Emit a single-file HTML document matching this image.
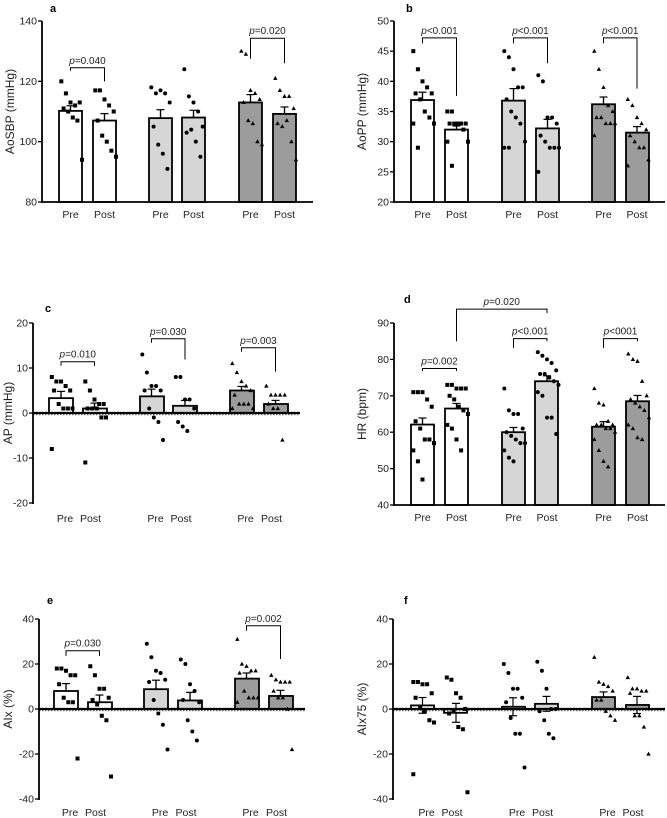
<!DOCTYPE html>
<html><head><meta charset="utf-8"><style>
html,body{margin:0;padding:0;background:#fff;}
svg{display:block;font-family:"Liberation Sans",sans-serif;}
</style></head><body>
<svg id="fig" width="667" height="818" viewBox="0 0 667 818"></svg>
<script>
// ---- data ----
const groups = ["Pre","Post","Pre","Post","Pre","Post"];
const aMean=[110.2,107,107.8,108,113,109.2];
const aSem=[1.7,2.3,2.8,2.4,2.6,2.3];
const aPts=[[120,116,113,112,113,111,110,108,107,94],[117,117,114,112,110,107,102,100,97,95],[118,116,117,116,113,105,99,96,91],[124,115,113,110,105,103,104,100,95],[130,129,117,116,114,113,107,106,100,99],[121,117,115,115,111,106,105,107,100,94]];
const aBr=[[0,1,124.5,123.5,120,"=0.040"],[4,5,134.3,127.5,126,"=0.020"]];
const aTicks=[80,100,120,140];

const bMean=[36.9,32,36.8,32.2,36.2,31.5];
const bSem=[1.3,0.6,2,1.5,1.2,1];
const bPts=[[45,42,40,39,38,38,37,35,34,33,33,29],[35,35,33,33,33,33,33,33,32,30,30,26],[45,44,42,39,39,37,35,34,33,30,29,29],[41,40,34,34,33,31,30,29,29,29,25],[45,42,39,36,35,34,34,33,33,33,31],[37,36,34,33,32,31,30,29,29,27,26]];
const bBr=[[0,1,47.2,46.3,37.6,"<0.001"],[2,3,47.2,46.3,43,"<0.001"],[4,5,47.2,46.3,38.8,"<0.001"]];
const bTicks=[20,25,30,35,40,45,50];

const cMean=[3.3,1,3.7,1.6,5,2];
const cSem=[1.5,1.2,1.6,1.2,0.9,0.8];
const cPts=[[8,7,7,6,5,5,2,1,1,1,-8],[7,5,3,2,2,1,1,1,-1,-1,-11],[13,9,6,6,5,5,1,-1,-2,-6],[8,8,3,3,1,-2,-3,-4],[11,9,7,6,5,4,2,2,2,1,1],[6,4,4,4,4,2,1,1,-6]];
const cBr=[[0,1,11.4,10.5,10.5,"=0.010"],[2,3,16.5,15.6,11.9,"=0.030"],[4,5,14.5,13.6,9.2,"=0.003"]];
const cTicks=[-20,-10,0,10,20];

const dMean=[62.1,66.5,60,74,61.5,68.5];
const dSem=[1.8,1.4,1.3,1.5,1.4,1.6];
const dPts=[[71,71,71,69,67,63,61,58,58,57,55,52,47],[73,73,72,72,72,70,69,67,66,65,62,61,58,55],[72,66,65,65,61,60,59,58,57,57,55,53,52],[82,81,80,79,77,76,76,75,74,73,71,70,64,64,59.5],[72,68,67.5,63,62,62,62,61,61,60,58,55,52,50.5],[81.5,80,79.5,74,70,69,68,67,66,64,62,61,58.5,58]];
const dBr=[[0,1,77.5,76.8,76.8,"=0.002"],[2,3,85.7,83.1,85,"<0.001"],[4,5,85.7,83.1,85,"<0001"],[1,3,93.8,85,92.7,"=0.020"]];
const dTicks=[40,50,60,70,80,90];

const eMean=[8,3,8.8,3.8,13.5,5.8];
const eSem=[3.3,3.2,4,3.6,2.5,2.5];
const ePts=[[18,18,17,15,15,11,5,3,3,-22],[19,15,9,9,5,4,2,-3,-5,-30],[29,23,17,16,13,12,4,-2,-7,-18],[22,20,11,8,3,4,-5,-10,-14],[31,20,19,17,17,16,8,5,5,5,3],[15,13,12,12,12,8,5,5,0,-18]];
const eBr=[[0,1,25.9,23.6,23.6,"=0.030"],[4,5,37,34.8,22.2,"=0.002"]];
const eTicks=[-40,-20,0,20,40];

const fMean=[1.6,-1.7,1,2.3,5.3,1.8];
const fSem=[3.5,4.2,4,3.3,2.3,3.8];
const fPts=[[12,12,11,11,7,5,1,-1,-5,-6,-29],[14,13,7,5,0,-2,-1,-8,-9,-37],[20,16,9,9,5,3,-4,-11,-11,-26],[21,17,9,0,0,-1,-5,-11,-13],[23,12,11,10,8,4,4,-1,-3,-5],[14,9,9,8,8,7,-3,-3,-8,-20]];
const fBr=[];
const fTicks=[-40,-20,0,20,40];

const fills=["#ffffff","#ffffff","#d6d6d6","#d6d6d6","#9c9c9c","#9c9c9c"];
const markers=["sq","sq","ci","ci","tr","tr"];

const svg=document.getElementById('fig');
const NS="http://www.w3.org/2000/svg";
function mk(tag,attrs,parent){const e=document.createElementNS(NS,tag);for(const k in attrs)e.setAttribute(k,attrs[k]);(parent||svg).appendChild(e);return e;}

function panel(cfg){
  const g=mk('g',{});
  
  
  const y=v=>cfg.y0+(cfg.y1-cfg.y0)*(v-cfg.vmin)/(cfg.vmax-cfg.vmin);
  const L=mk('text',{x:cfg.lx,y:cfg.ly,'font-size':11,'font-weight':'bold'},g);L.textContent=cfg.letter;
  
  
  const ax=mk('line',{x1:cfg.ax,x2:cfg.ax,y1:y(cfg.vmin)+1,y2:y(cfg.vmax),stroke:'#000','stroke-width':1.8},g);
  
  
  cfg.ticks.forEach(t=>{
    mk('line',{x1:cfg.ax-4,x2:cfg.ax,y1:y(t),y2:y(t),stroke:'#000','stroke-width':1.3},g);
    const tt=mk('text',{x:cfg.ax-5,y:y(t)+3.5,'font-size':10.5,'text-anchor':'end',fill:'#222'},g);tt.textContent=t;
    
    
  });
  const yt=mk('text',{x:0,y:0,'font-size':12,'text-anchor':'middle',fill:'#222',transform:`translate(${cfg.tx},${(y(cfg.vmin)+y(cfg.vmax))/2}) rotate(-90)`},g);
  yt.textContent=cfg.title;
  
  
  const bw=cfg.bars[0][1]-cfg.bars[0][0];
  const base=cfg.zero?y(0):y(cfg.vmin);
  cfg.mean.forEach((m,i)=>{
    const [xl,xr]=cfg.bars[i];const cx=(xl+xr)/2;
    const top=Math.min(y(m),base),h=Math.abs(y(m)-base);
    const eu=y(m+cfg.sem[i]), ed=cfg.two?y(m-cfg.sem[i]):y(m);
    mk('line',{x1:cx,x2:cx,y1:eu,y2:ed,stroke:'#000','stroke-width':1.2},g);
    mk('line',{x1:cx-4,x2:cx+4,y1:eu,y2:eu,stroke:'#000','stroke-width':1.2},g);
    if(cfg.two) mk('line',{x1:cx-4,x2:cx+4,y1:ed,y2:ed,stroke:'#000','stroke-width':1.2},g);
    const r=mk('rect',{x:xl,y:top,width:bw,height:Math.max(h,0.5),fill:fills[i],stroke:'#000','stroke-width':1.8},g);
    
    
    if(!cfg.two){
      mk('line',{x1:cx,x2:cx,y1:eu,y2:y(m),stroke:'#000','stroke-width':1.2},g);
    }
    const pts=cfg.pts[i];
    pts.forEach((v,j)=>{
      const off=((j%5)-2)*4.6+((Math.floor(j/5)%2)?2.3:0);
      const px=cx+off,py=y(v);
      let p;
      if(markers[i]==='sq')p=mk('rect',{x:px-2,y:py-2,width:4,height:4,fill:'#000'},g);
      else if(markers[i]==='ci')p=mk('circle',{cx:px,cy:py,r:2,fill:'#000'},g);
      else p=mk('polygon',{points:`${px},${py-2.4} ${px-2.2},${py+1.6} ${px+2.2},${py+1.6}`,fill:'#000'},g);
      
      
    });
    const lb=mk('text',{x:cx+(cfg.lblShift?(i%2?-4:4):0),y:cfg.lby,'font-size':10.5,'text-anchor':'middle',fill:'#222'},g);
    lb.textContent=groups[i];
    
    
  });
  const xl=mk('line',{x1:cfg.ax,x2:cfg.xend,y1:base,y2:base,stroke:'#000','stroke-width':cfg.zero?2.2:1.8},g);
  
  
  if(cfg.zero) mk('line',{x1:cfg.ax,x2:cfg.xend,y1:base+1.8,y2:base+1.8,stroke:'#000','stroke-width':0.7,'stroke-dasharray':'1.5,1.5'},g);
  cfg.br.forEach(b=>{
    const x1=(cfg.bars[b[0]][0]+cfg.bars[b[0]][1])/2, x2=(cfg.bars[b[1]][0]+cfg.bars[b[1]][1])/2;
    const pl=mk('polyline',{points:`${x1},${y(b[3])} ${x1},${y(b[2])} ${x2},${y(b[2])} ${x2},${y(b[4])}`,fill:'none',stroke:'#000','stroke-width':1},g);
    
    
    const t=mk('text',{x:(x1+x2)/2,y:y(b[2])-4,'font-size':10,'text-anchor':'middle',fill:'#222'},g);
    const ts=mk('tspan',{'font-style':'italic'},t);ts.textContent='p';
    t.appendChild(document.createTextNode(b[5]));
    
    
  });
}

panel({letter:'a',lx:50,ly:12,ax:42,vmin:80,vmax:140,y0:202,y1:21,ticks:aTicks,title:'AoSBP (mmHg)',tx:14,
  bars:[[59,82],[93,116],[149,172],[182,205],[239,262],[273,296]],xend:313,lby:218,mean:aMean,sem:aSem,pts:aPts,br:aBr});
panel({letter:'b',lx:406,ly:12,ax:394,vmin:20,vmax:50,y0:202,y1:21,ticks:bTicks,title:'AoPP (mmHg)',tx:366,
  bars:[[411,434],[445,468],[502,525],[536,559],[592,615],[626,648]],xend:665,lby:218,mean:bMean,sem:bSem,pts:bPts,br:bBr});
panel({letter:'c',lx:45,ly:312,ax:33,vmin:-20,vmax:20,y0:503,y1:323,ticks:cTicks,title:'AP (mmHg)',tx:12,zero:true,lblShift:true,
  bars:[[49,73],[83,106],[140,163],[173,197],[230,253],[264,287]],xend:300,lby:522,mean:cMean,sem:cSem,pts:cPts,br:cBr});
panel({letter:'d',lx:404,ly:303,ax:394,vmin:40,vmax:90,y0:505,y1:323,ticks:dTicks,title:'HR  (bpm)',tx:366,
  bars:[[411,434],[445,468],[502,525],[535,559],[592,615],[626,649]],xend:665,lby:521,mean:dMean,sem:dSem,pts:dPts,br:dBr});
panel({letter:'e',lx:47,ly:604,ax:39,vmin:-40,vmax:40,y0:799,y1:619,ticks:eTicks,title:'AIx (%)',tx:12,zero:true,lblShift:true,
  bars:[[54,78],[88,111],[144,168],[178,202],[235,258],[269,292]],xend:305,lby:816,mean:eMean,sem:eSem,pts:ePts,br:eBr});
panel({letter:'f',lx:404,ly:604,ax:393,vmin:-40,vmax:40,y0:799,y1:619,ticks:fTicks,title:'AIx75 (%)',tx:366,zero:true,two:true,lblShift:true,
  bars:[[411,434],[444,468],[502,524],[535,558],[592,615],[626,648]],xend:665,lby:816,mean:fMean,sem:fSem,pts:fPts,br:fBr});
</script>
</body></html>
